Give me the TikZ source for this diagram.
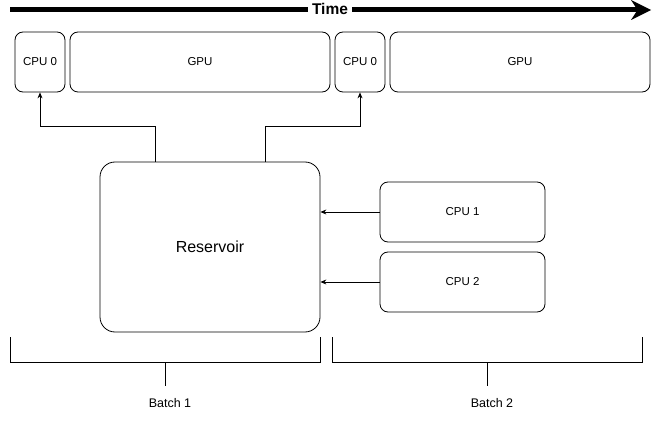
\documentclass[tikz,border=0pt]{standalone}
\usepackage{fontspec}
\setmainfont{Liberation Sans}
\usetikzlibrary{arrows.meta}

\begin{document}
\begin{tikzpicture}[>=stealth,x=1pt,y=-1pt,
    task/.style={draw,rounded corners=8pt,line width=.8pt,minimum height=60pt,
      inner sep=0pt,font=\fontsize{11.5}{13}\selectfont},
    brace/.style={line width=.8pt},
    link/.style={-{Stealth[length=6pt,width=5pt]},line width=.8pt}
  ]
    \useasboundingbox (0,0) rectangle (661,422);

    \coordinate (t0) at (10,10);
    \coordinate (t1) at (651,10);
    \draw[line width=5pt,-{Stealth[length=20pt,width=20pt,line width=0pt]}] (t0) -- (t1);
    \node[fill=white,inner xsep=4pt,inner ysep=1pt,font=\fontsize{15.5}{17}\selectfont\bfseries] (time) at (330,9) {Time};

    \node[task,minimum width=50pt]  (cpuA) at (40,62)  {CPU 0};
    \node[task,minimum width=260pt] (gpuA) at (200,62) {GPU};
    \node[task,minimum width=50pt]  (cpuB) at (360,62) {CPU 0};
    \node[task,minimum width=260pt] (gpuB) at (520,62) {GPU};

    \node[task,rounded corners=15pt,minimum width=220pt,minimum height=170pt,
      font=\fontsize{16}{19}\selectfont] (res) at (210,247) {Reservoir};
    \node[task,minimum width=165pt] (cpu1) at (462.5,212) {CPU 1};
    \node[task,minimum width=165pt] (cpu2) at (462.5,282) {CPU 2};

    \draw[link] ([xshift=-55pt]res.north) -- ++(0,-35) -| (cpuA.south);
    \draw[link] ([xshift=55pt]res.north) -- ++(0,-35) -| (cpuB.south);
    \draw[link] (cpu1.west) -- (cpu1.west -| res.east);
    \draw[link] (cpu2.west) -- (cpu2.west -| res.east);

    \draw[brace] (10,337) -- (10,362) -- (320,362) -- (320,337);
    \draw[brace] (165,362) -- (165,386);
    \node[font=\fontsize{12.5}{14}\selectfont] (batchA) at (170,403) {Batch 1};
    \draw[brace] (332,337) -- (332,362) -- (642,362) -- (642,337);
    \draw[brace] (487,362) -- (487,386);
    \node[font=\fontsize{12.5}{14}\selectfont] (batchB) at (492,403) {Batch 2};

\end{tikzpicture}
\end{document}
